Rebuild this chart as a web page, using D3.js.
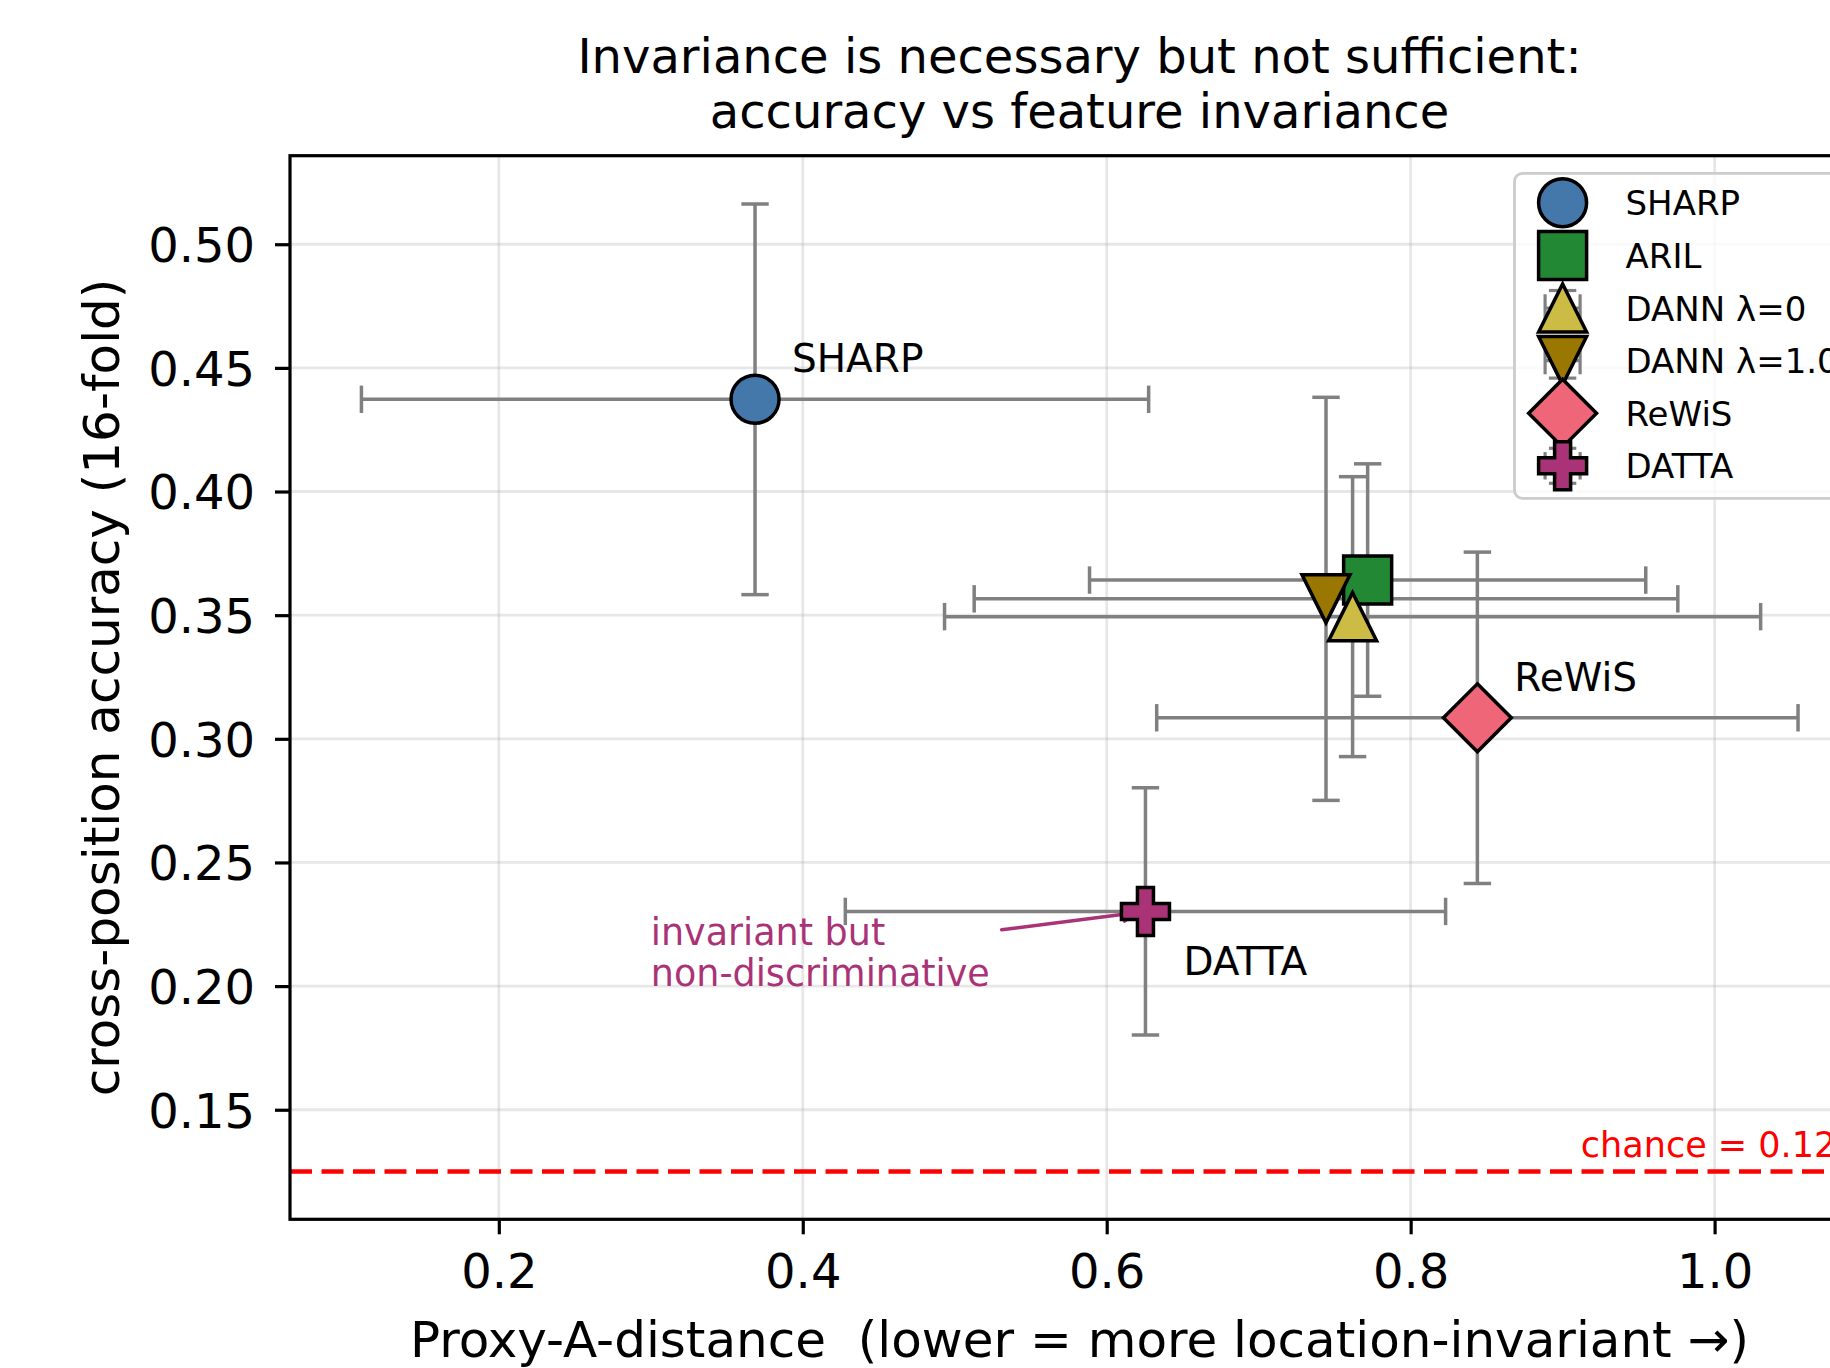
<!DOCTYPE html>
<html>
<head>
<meta charset="utf-8">
<script src="https://cdn.jsdelivr.net/npm/d3@7"></script>
<style>
  html, body { margin: 0; padding: 0; background: #fff; }
  svg { display: block; font-family: "DejaVu Sans", sans-serif; }
  .pre { white-space: pre; }
</style>
</head>
<body>
<svg id="chart" width="1830" height="1368"></svg>
<script>
// ---------------- data ----------------
const methods = ["SHARP", "ARIL", "DANN λ=0", "DANN λ=1.0", "ReWiS", "DATTA"];
const proxyA  = [0.3686, 0.7717, 0.7618, 0.7443, 0.8439, 0.6255];
const proxyAErr = [0.259, 0.183, 0.2685, 0.2315, 0.211, 0.1975];
const accuracy = [0.4373, 0.3642, 0.3494, 0.3566, 0.3085, 0.2302];
const accuracyErr = [0.079, 0.047, 0.0566, 0.0815, 0.067, 0.050];
const colors = ["#4477AA", "#228833", "#CCBB44", "#997700", "#EE6677", "#AA3377"];
const markers = ["circle", "square", "triUp", "triDown", "diamond", "plus"];
const pointLabels = ["SHARP", null, null, null, "ReWiS", "DATTA"];
const xTicks = [0.2, 0.4, 0.6, 0.8, 1.0];
const yTicks = [0.15, 0.20, 0.25, 0.30, 0.35, 0.40, 0.45, 0.50];
const chance = 0.125;
const xDomain = [0.0626, 1.1016];
const yDomain = [0.1057, 0.5358];
const titleLines = ["Invariance is necessary but not sufficient:", "accuracy vs feature invariance"];
const xLabel = "Proxy-A-distance  (lower = more location-invariant \u2192)";
const yLabel = "cross-position accuracy (16-fold)";
const annoLines = ["invariant but", "non-discriminative"];
const annoPos = [0.30, 0.21];

// ---------------- layout ----------------
const L = 290, R = 1869, T = 155.7, B = 1219.3;
const svg = d3.select("#chart");
const x = d3.scaleLinear().domain(xDomain).range([L, R]);
const y = d3.scaleLinear().domain(yDomain).range([B, T]);
const MS = 48, EDGE = 3.5;

// marker shapes (size = marker size in px)
function poly(ctx, pts) { ctx.moveTo(pts[0][0], pts[0][1]); for (let i = 1; i < pts.length; i++) ctx.lineTo(pts[i][0], pts[i][1]); ctx.closePath(); }
const shapes = {
  circle: { draw(ctx, s) { const r = s / 2; ctx.moveTo(r, 0); ctx.arc(0, 0, r, 0, 2 * Math.PI); ctx.closePath(); } },
  square: { draw(ctx, s) { const h = s / 2; poly(ctx, [[-h,-h],[h,-h],[h,h],[-h,h]]); } },
  triUp: { draw(ctx, s) { const h = s / 2; poly(ctx, [[0,-h],[-h,h],[h,h]]); } },
  triDown: { draw(ctx, s) { const h = s / 2; poly(ctx, [[0,h],[-h,-h],[h,-h]]); } },
  diamond: { draw(ctx, s) { const h = s * Math.SQRT2 / 2; poly(ctx, [[0,-h],[h,0],[0,h],[-h,0]]); } },
  plus: { draw(ctx, s) { const b = s / 2, a = s / 6; poly(ctx, [[-a,-b],[a,-b],[a,-a],[b,-a],[b,a],[a,a],[a,b],[-a,b],[-a,a],[-b,a],[-b,-a],[-a,-a]]); } }
};
const sym = (m) => d3.symbol().type(shapes[m]).size(MS)();

// clip
svg.append("defs").append("clipPath").attr("id", "clip")
  .append("rect").attr("x", L).attr("y", T).attr("width", R - L).attr("height", B - T);

// grid
const grid = svg.append("g").attr("stroke", "#b0b0b0").attr("stroke-opacity", 0.3).attr("stroke-width", 2.8);
grid.selectAll("line.gx").data(xTicks).join("line")
  .attr("x1", d => x(d)).attr("x2", d => x(d)).attr("y1", T).attr("y2", B);
grid.selectAll("line.gy").data(yTicks).join("line")
  .attr("x1", L).attr("x2", R).attr("y1", d => y(d)).attr("y2", d => y(d));

// chance line
svg.append("line").attr("x1", L).attr("x2", R).attr("y1", y(chance)).attr("y2", y(chance))
  .attr("stroke", "red").attr("stroke-width", 4.5).attr("stroke-dasharray", "22,9.5");
svg.append("text").attr("x", x(0.912)).attr("y", y(chance) - 14.5)
  .attr("fill", "red").attr("font-size", 35).text("chance = " + chance);

const data = methods.map((m, i) => ({ m, x: proxyA[i], y: accuracy[i], xe: proxyAErr[i], ye: accuracyErr[i], c: colors[i], mk: markers[i], lab: pointLabels[i] }));

// error bars
const eb = svg.append("g").attr("clip-path", "url(#clip)").attr("stroke", "#808080").attr("stroke-width", 3.5).attr("fill", "none");
const CAP = 13.7;
data.forEach(d => {
  const cx = x(d.x), cy = y(d.y);
  const x0 = x(d.x - d.xe), x1 = x(d.x + d.xe), y0 = y(d.y - d.ye), y1 = y(d.y + d.ye);
  eb.append("line").attr("x1", x0).attr("x2", x1).attr("y1", cy).attr("y2", cy);
  eb.append("line").attr("x1", cx).attr("x2", cx).attr("y1", y0).attr("y2", y1);
  [x0, x1].forEach(xx => eb.append("line").attr("x1", xx).attr("x2", xx).attr("y1", cy - CAP).attr("y2", cy + CAP));
  [y0, y1].forEach(yy => eb.append("line").attr("y1", yy).attr("y2", yy).attr("x1", cx - CAP).attr("x2", cx + CAP));
});

// annotation text + arrow
const annoColor = "#AA3377";
const at = svg.append("text").attr("fill", annoColor).attr("font-size", 36.5);
at.append("tspan").attr("x", x(annoPos[0])).attr("y", y(annoPos[1]) - 16.5).text(annoLines[0]);
at.append("tspan").attr("x", x(annoPos[0])).attr("y", y(annoPos[1]) + 24.5).text(annoLines[1]);
{
  const bb = at.node().getBBox();
  const pad = 4;
  const bx0 = bb.x - pad, bx1 = bb.x + bb.width + pad, by0 = bb.y - pad, by1 = bb.y + bb.height + pad;
  const ccx = (bx0 + bx1) / 2, ccy = (by0 + by1) / 2;
  const tx = x(proxyA[5]), ty = y(accuracy[5]);
  const dx = tx - ccx, dy = ty - ccy, len = Math.hypot(dx, dy), ux = dx / len, uy = dy / len;
  const tEdge = Math.min(ux !== 0 ? (ux > 0 ? (bx1 - ccx) / ux : (bx0 - ccx) / ux) : Infinity,
                         uy !== 0 ? (uy > 0 ? (by1 - ccy) / uy : (by0 - ccy) / uy) : Infinity);
  const sx = ccx + ux * (tEdge + 8), sy = ccy + uy * (tEdge + 8);
  const ex = tx - ux * 8, ey = ty - uy * 8;
  const hl = 14, hw = 7;
  const bxp = ex - ux * hl, byp = ey - uy * hl;
  svg.append("path")
    .attr("d", `M${sx},${sy}L${ex},${ey}M${bxp - uy * hw},${byp + ux * hw}L${ex},${ey}L${bxp + uy * hw},${byp - ux * hw}`)
    .attr("fill", "none").attr("stroke", annoColor).attr("stroke-width", 3.5).attr("stroke-linecap", "round").attr("stroke-linejoin", "round");
}

// markers
const mg = svg.append("g").attr("clip-path", "url(#clip)");
mg.selectAll("path").data(data).join("path")
  .attr("transform", d => `translate(${x(d.x)},${y(d.y)})`)
  .attr("d", d => sym(d.mk))
  .attr("fill", d => d.c).attr("stroke", "#000").attr("stroke-width", EDGE).attr("stroke-linejoin", "miter");

// point labels
const labOff = { SHARP: [37, -27], ReWiS: [37, -27], DATTA: [38, 64] };
svg.selectAll("text.plab").data(data.filter(d => d.lab)).join("text")
  .attr("class", "plab")
  .attr("x", d => x(d.x) + labOff[d.lab][0]).attr("y", d => y(d.y) + labOff[d.lab][1])
  .attr("font-size", 39).attr("fill", "#000").text(d => d.lab);

// spines
const sp = svg.append("g").attr("stroke", "#000").attr("stroke-width", 3.2).attr("fill", "none");
sp.append("rect").attr("x", L).attr("y", T).attr("width", R - L).attr("height", B - T);

// axes ticks
const xAxis = d3.axisBottom(x).tickValues(xTicks).tickFormat(d3.format(".1f")).tickSize(15).tickPadding(20);
const gx = svg.append("g").attr("transform", `translate(0,${B})`).call(xAxis);
gx.select(".domain").remove();
gx.selectAll(".tick line").attr("stroke", "#000").attr("stroke-width", 3.2);
gx.selectAll(".tick text").attr("font-size", 48).attr("font-family", "DejaVu Sans").attr("fill", "#000").attr("dy", "0.71em");

const yAxis = d3.axisLeft(y).tickValues(yTicks).tickFormat(d3.format(".2f")).tickSize(15).tickPadding(20);
const gy = svg.append("g").attr("transform", `translate(${L},0)`).call(yAxis);
gy.select(".domain").remove();
gy.selectAll(".tick line").attr("stroke", "#000").attr("stroke-width", 3.2);
gy.selectAll(".tick text").attr("font-size", 48).attr("font-family", "DejaVu Sans").attr("fill", "#000").attr("dy", "0.36em");

// axis labels
const midX = (L + R) / 2;
svg.append("text").attr("class", "pre").attr("xml:space", "preserve")
  .attr("x", midX).attr("y", 1356.7).attr("text-anchor", "middle").attr("font-size", 50).text(xLabel);
svg.append("text").attr("transform", `translate(119,${(T + B) / 2}) rotate(-90)`).attr("text-anchor", "middle").attr("font-size", 50).text(yLabel);

// title
svg.append("text").attr("text-anchor", "middle").attr("font-size", 48)
  .selectAll("tspan").data(titleLines).join("tspan")
  .attr("x", midX).attr("y", (d, i) => 72.7 + i * 55.6).text(d => d);

// legend
const lg = svg.append("g");
lg.append("rect").attr("x", 1514.5).attr("y", 173.3).attr("width", 340).attr("height", 325).attr("rx", 8)
  .attr("fill", "#fff").attr("fill-opacity", 0.8).attr("stroke", "#cccccc").attr("stroke-width", 2.8);
const LX = 1562.6, LY0 = 202.8, LDY = 52.6;
data.forEach((d, i) => {
  const cy = LY0 + i * LDY;
  const g = lg.append("g").attr("transform", `translate(${LX},${cy})`);
  const e = g.append("g").attr("stroke", "#808080").attr("stroke-width", 3.2);
  const H = 17.5, C = 13.7;
  e.append("line").attr("x1", -H).attr("x2", H).attr("y1", 0).attr("y2", 0);
  e.append("line").attr("x1", 0).attr("x2", 0).attr("y1", -H).attr("y2", H);
  [-H, H].forEach(v => {
    e.append("line").attr("x1", v).attr("x2", v).attr("y1", -C).attr("y2", C);
    e.append("line").attr("y1", v).attr("y2", v).attr("x1", -C).attr("x2", C);
  });
  g.append("path").attr("d", sym(d.mk)).attr("fill", d.c).attr("stroke", "#000").attr("stroke-width", EDGE);
  lg.append("text").attr("x", 1625.5).attr("y", cy + 12.5).attr("font-size", 34).text(d.m);
});
</script>
</body>
</html>
